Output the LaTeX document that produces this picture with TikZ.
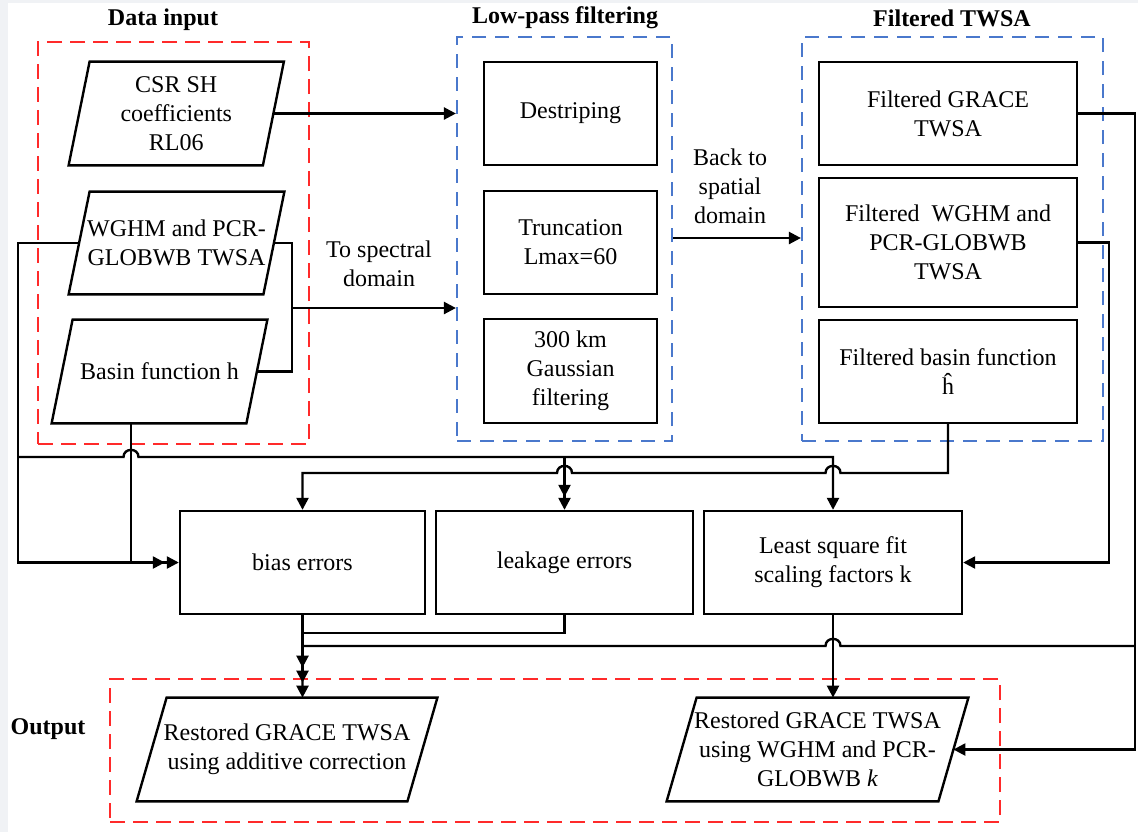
\documentclass[tikz,border=0pt]{standalone}
\usepackage{fontspec}
\setmainfont{Liberation Serif}
\usetikzlibrary{arrows.meta,calc}
\definecolor{dred}{HTML}{FF2A2A}
\definecolor{dblue}{HTML}{4A78CC}
\definecolor{bgc}{HTML}{F0F2F5}
\tikzset{
  txt/.style={font=\fontsize{12pt}{14.5pt}\selectfont},
  box/.style={txt, draw, line width=1.2pt, rectangle, inner sep=0pt, align=center},
  paratext/.style={txt, rectangle, inner sep=0pt, align=center},
  paraline/.style={line width=1.2pt},
  lbl/.style={txt, inner sep=0pt, align=center},
  ttl/.style={txt, inner sep=0pt, font=\fontsize{12pt}{14.5pt}\selectfont\bfseries},
  redgroup/.style={draw=dred, line width=1.1pt, dash pattern=on 7.5pt off 4pt, inner sep=0pt, rectangle},
  bluegroup/.style={draw=dblue, line width=1.1pt, dash pattern=on 7pt off 4.5pt, inner sep=0pt, rectangle},
  wire/.style={line width=1.2pt},
  arr/.style={line width=1.2pt, -{Triangle[length=6pt,width=6pt]}},
  hopR/.style 2 args={insert path={-- ({#1-7.5},#2) .. controls ({#1-7.5},{#2-9.5}) and ({#1+7.5},{#2-9.5}) .. ({#1+7.5},#2)}},
  hopL/.style 2 args={insert path={-- ({#1+7.5},#2) .. controls ({#1+7.5},{#2-9.5}) and ({#1-7.5},{#2-9.5}) .. ({#1-7.5},#2)}},
}
\begin{document}
\begin{tikzpicture}[x=0.5pt,y=-0.5pt]
\useasboundingbox (0,0) rectangle (1138,832);
\fill[bgc] (0,0) rectangle (1138,832);
\fill[white] (8,3) rectangle (1138,832);

% group boxes
\node[redgroup, minimum width=135.5pt, minimum height=201pt] (red1) at (173.5,243) {};
\node[bluegroup, minimum width=107.5pt, minimum height=202pt] (blue1) at (564.5,239) {};
\node[bluegroup, minimum width=150.5pt, minimum height=202pt] (blue2) at (952.5,239) {};
\node[redgroup, minimum width=445pt, minimum height=71.5pt] (red2) at (555,750.5) {};

% titles
\node[ttl] (tdata) at (163,20) {Data input};
\node[ttl] (tlow) at (565,18) {Low-pass filtering};
\node[ttl] (tfilt) at (952,18) {Filtered TWSA};
\node[ttl] (tout) at (48,729) {Output};

% input parallelograms (text nodes; outlines drawn below)
\node[paratext, minimum width=96.75pt, minimum height=51.5pt] (csr) at (176.25,113.5) {CSR SH\\coefficients\\RL06};
\node[paratext, minimum width=97pt, minimum height=51pt] (wghm) at (176.5,243) {WGHM and PCR-\\GLOBWB TWSA};
\node[paratext, minimum width=97pt, minimum height=51.5pt] (basin) at (159.5,371.5) {Basin function h};
\node[paratext, minimum width=135pt, minimum height=51.5pt] (out1) at (287,749.5) {Restored GRACE TWSA\\using additive correction};
\node[paratext, minimum width=135.5pt, minimum height=51.5pt] (out2) at (817.5,749.5) {Restored GRACE TWSA\\using WGHM and PCR-\\GLOBWB \textit{k}};
\foreach \n/\d in {csr/5.25pt, wghm/5.25pt, basin/5.25pt, out1/7.5pt, out2/7.5pt}
  \draw[paraline] ([xshift=\d]\n.north west) -- ([xshift=\d]\n.north east) -- ([xshift=-\d]\n.south east) -- ([xshift=-\d]\n.south west) -- cycle;

% low-pass boxes
\node[box, minimum width=86.5pt, minimum height=51.5pt] (destr) at (570.5,113.5) {Destriping};
\node[box, minimum width=86.5pt, minimum height=51.5pt] (trunc) at (570.5,242.5) {Truncation\\Lmax=60};
\node[box, minimum width=86.5pt, minimum height=52pt] (gauss) at (570.5,371) {300 km\\Gaussian\\filtering};

% filtered boxes
\node[box, minimum width=129pt, minimum height=51.5pt] (fgrace) at (948,113.5) {Filtered GRACE\\TWSA};
\node[box, minimum width=129pt, minimum height=64.5pt] (fwghm) at (948,242.5) {Filtered\ \ WGHM and\\PCR-GLOBWB\\TWSA};
\node[box, minimum width=129pt, minimum height=51.5pt] (fbasin) at (948,371.5) {Filtered basin function\\ĥ};

% error boxes
\node[box, minimum width=122.5pt, minimum height=51.5pt] (bias) at (302.5,562.5) {bias errors};
\node[box, minimum width=128.5pt, minimum height=51.5pt] (leak) at (564.5,562.5) {leakage errors};
\node[box, minimum width=129pt, minimum height=51.5pt] (lsq) at (833,562.5) {Least square fit\\scaling factors k};

% labels
\node[lbl] (tospec) at (379,263.5) {To spectral\\domain};
\node[lbl] (backto) at (730,186) {Back to\\spatial\\domain};

% helper coordinates
\coordinate (busAL) at (18,457);
\coordinate (busB) at (0,473);
\coordinate (busC) at (1135,646);
\coordinate (leakJ) at (0,633);
\coordinate (spec) at (292,308);
\coordinate (rx2) at (1109,0);
\coordinate (bsn) at ([xshift=-14.25pt]basin.south);

% connectors
\draw[arr] (csr.east) -- (blue1.west |- csr.east);
\draw[wire] (wghm.east) -| (spec |- basin.east) -- (basin.east);
\draw[arr] (spec) -- (blue1.west |- spec);
\draw[arr] (blue1.east |- 0,238) -- (blue2.west |- 0,238);

\draw[arr, shorten >=7pt] (wghm.west) -| (busAL |- bias.west) -- (bias.west);
\draw[arr] (bsn) -- (bsn |- bias.west) -- (bias.west);
\draw[arr] (busAL) [hopR={131}{457}] -- (lsq.north |- busAL) -- (lsq.north);
\draw[arr] (leak.north |- busAL) -- (leak.north);
\draw[arr, shorten >=6.5pt] (leak.north |- busAL) -- (leak.north);

\draw[arr] (fbasin.south) -- (fbasin.south |- busB) [hopL={833}{473}] [hopL={564.5}{473}] -- (bias.north |- busB) -- (bias.north);

\draw[arr] (fgrace.east) -| (busC |- out2.east) -- (out2.east);
\draw[arr] (busC) [hopL={833}{646}] -- (bias.south |- busC) -- (bias.south |- out1.north);
\draw[arr, shorten >=15pt] (bias.south) -- (bias.south |- out1.north);
\draw[arr, shorten >=7.5pt] (leak.south) -- (leak.south |- leakJ) -- (bias.south |- leakJ) -- (bias.south |- out1.north);

\draw[arr] (fwghm.east) -| (rx2 |- lsq.east) -- (lsq.east);
\draw[arr] (lsq.south) -- (lsq.south |- out2.north);
\end{tikzpicture}
\end{document}
